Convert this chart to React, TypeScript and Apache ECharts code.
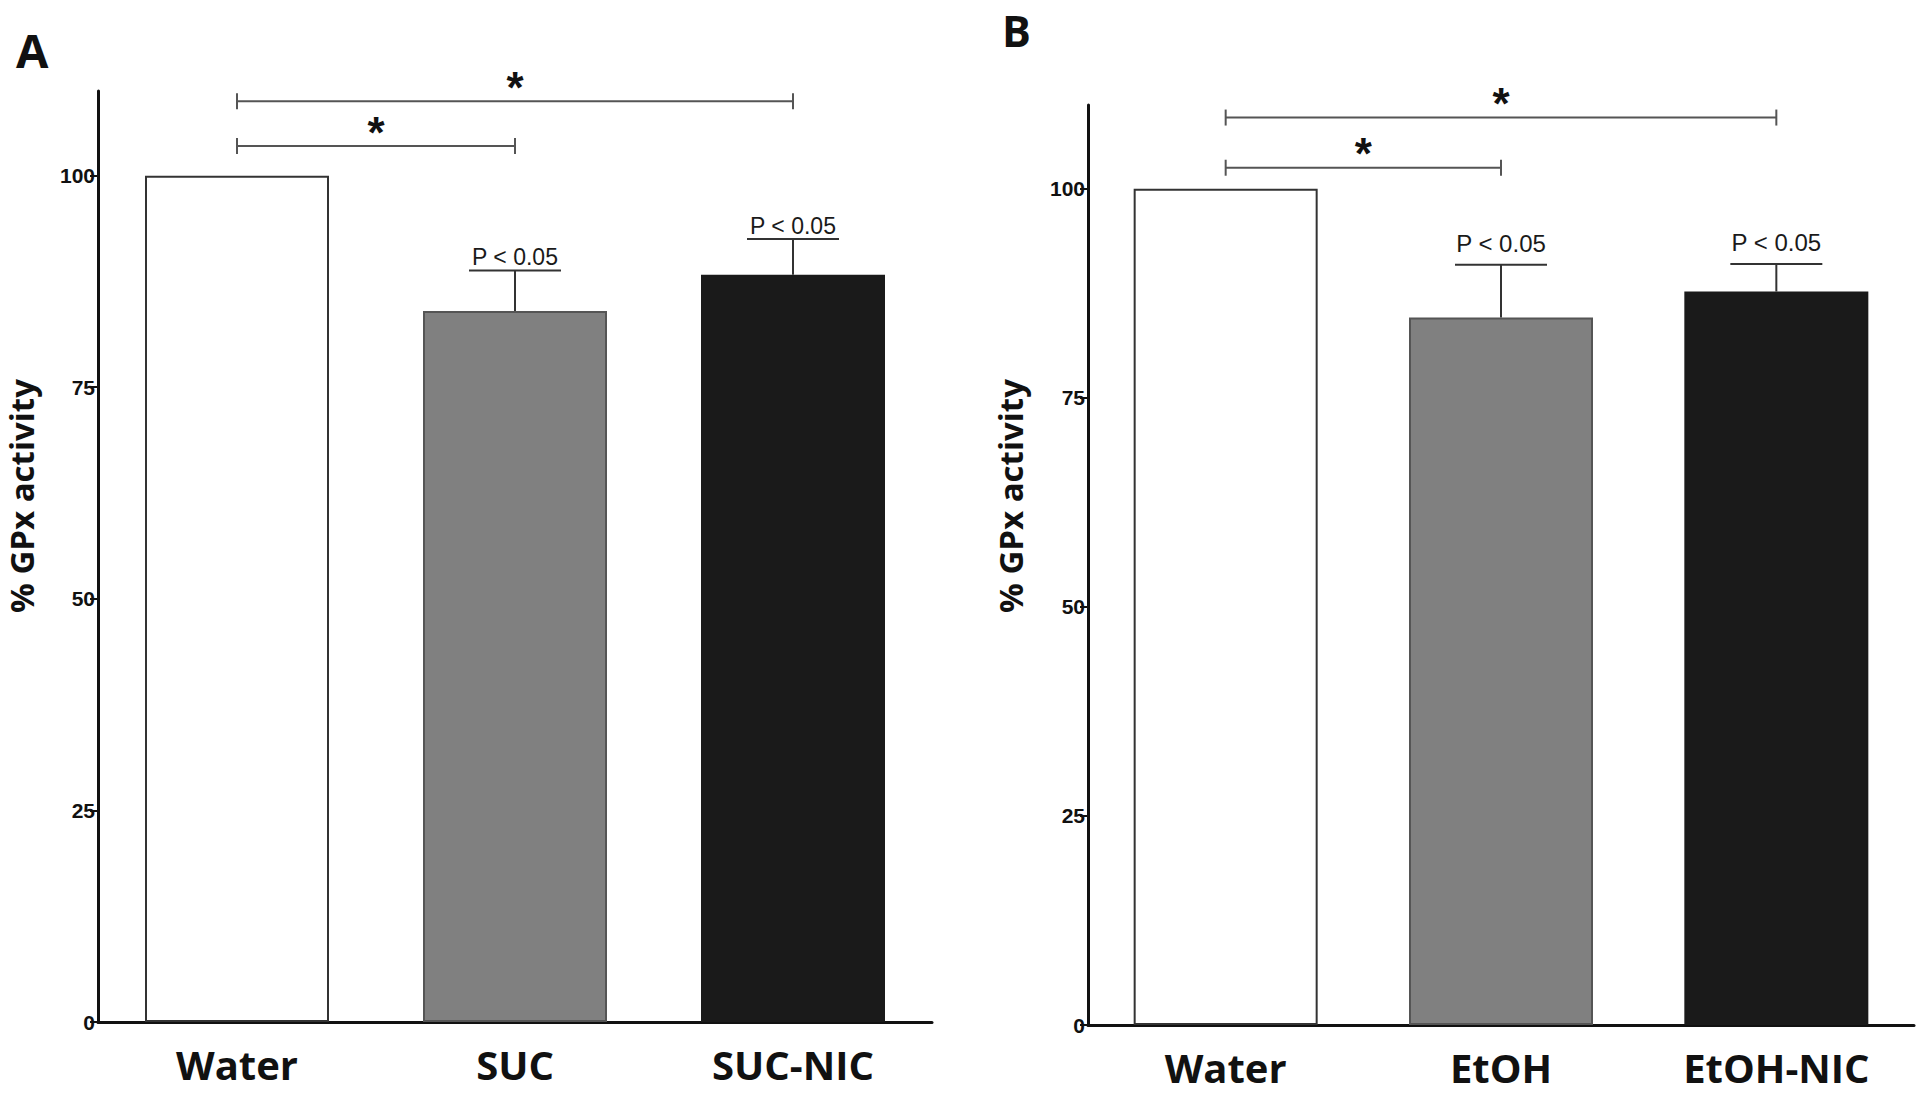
import React, { useEffect, useRef } from "react";
import * as echarts from "echarts";

const categoriesA = ["Water", "SUC", "SUC-NIC"];
const valuesA = [100, 84.0, 88.3];
const errorsA = [0, 4.8, 4.2];
const bracketsA = [
  [0, 2, 108.8],
  [0, 1, 103.5],
];

const categoriesB = ["Water", "EtOH", "EtOH-NIC"];
const valuesB = [100, 84.6, 87.7];
const errorsB = [0, 6.3, 3.3];
const bracketsB = [
  [0, 2, 108.5],
  [0, 1, 102.5],
];

const yTicks = [0, 25, 50, 75, 100];
const pLabel = "P < 0.05";
const starLabel = "*";
const yName = "% GPx activity";

const barColors = ["#ffffff", "#808080", "#1a1a1a"];
const barBorders = ["#333333", "#555555", "#1a1a1a"];

function makeErrorRender(gap: number, fontSize: number) {
  return function errorRender(params: any, api: any) {
    const x = api.value(0);
    const mean = api.value(1);
    const upper = api.value(2);
    const p0 = api.coord([x, mean]);
    const p1 = api.coord([x, upper]);
    const hw = 46;
    const stroke = { stroke: "#333333", lineWidth: 2 };
    return {
      type: "group",
      children: [
        { type: "line", shape: { x1: p0[0], y1: p0[1], x2: p1[0], y2: p1[1] }, style: stroke },
        { type: "line", shape: { x1: p1[0] - hw, y1: p1[1], x2: p1[0] + hw, y2: p1[1] }, style: stroke },
        {
          type: "text",
          x: p1[0],
          y: p1[1] - gap,
          style: {
            text: pLabel,
            fill: "#1a1a1a",
            font: fontSize + "px 'Liberation Sans', Arial, sans-serif",
            align: "center",
            verticalAlign: "bottom",
          },
        },
      ],
    };
  };
}

function bracketRender(params: any, api: any) {
  const a = api.value(0);
  const b = api.value(1);
  const y = api.value(2);
  const p0 = api.coord([a, y]);
  const p1 = api.coord([b, y]);
  const stroke = { stroke: "#555555", lineWidth: 2 };
  const t = 8;
  return {
    type: "group",
    children: [
      { type: "line", shape: { x1: p0[0], y1: p0[1], x2: p1[0], y2: p1[1] }, style: stroke },
      { type: "line", shape: { x1: p0[0], y1: p0[1] - t, x2: p0[0], y2: p0[1] + t }, style: stroke },
      { type: "line", shape: { x1: p1[0], y1: p1[1] - t, x2: p1[0], y2: p1[1] + t }, style: stroke },
      {
        type: "text",
        x: (p0[0] + p1[0]) / 2,
        y: p0[1] + 8,
        style: {
          text: starLabel,
          fill: "#111111",
          font: "bold 44px 'Liberation Sans', Arial, sans-serif",
          align: "center",
          verticalAlign: "bottom",
        },
      },
    ],
  };
}

function buildPanel(
  idx: number,
  cats: string[],
  vals: number[],
  errs: number[],
  brackets: number[][],
  pGap: number,
  pSize: number
) {
  const xAxis = {
    type: "category",
    gridIndex: idx,
    data: cats,
    axisLine: { lineStyle: { color: "#111111", width: 3 } },
    axisTick: { alignWithLabel: true, length: 7, lineStyle: { color: "#111111", width: 2 } },
    axisLabel: {
      color: "#111111",
      fontFamily: "'Open Sans', sans-serif",
      fontWeight: "bold",
      fontSize: 40,
      margin: 22,
    },
  };
  const yAxis = {
    type: "value",
    gridIndex: idx,
    min: 0,
    max: 110,
    interval: 25,
    splitLine: { show: false },
    axisLine: { show: true, lineStyle: { color: "#111111", width: 3 } },
    axisTick: { show: true, length: 8, customValues: yTicks, lineStyle: { color: "#111111", width: 2 } },
    axisLabel: {
      customValues: yTicks,
      color: "#111111",
      fontFamily: "'Liberation Sans Narrow', 'Liberation Sans', Arial, sans-serif",
      fontWeight: "bold",
      fontSize: 21,
      margin: 3,
    },
  };
  const series: any[] = [
    {
      type: "bar",
      xAxisIndex: idx,
      yAxisIndex: idx,
      barWidth: 184,
      data: vals.map((v, i) => ({
        value: v,
        itemStyle: { color: barColors[i], borderColor: barBorders[i], borderWidth: 2 },
      })),
    },
    {
      type: "custom",
      xAxisIndex: idx,
      yAxisIndex: idx,
      clip: false,
      renderItem: makeErrorRender(pGap, pSize),
      data: vals
        .map((v, i) => [i, v, v + errs[i]])
        .filter((d, i) => errs[i] > 0),
      z: 5,
    },
    {
      type: "custom",
      xAxisIndex: idx,
      yAxisIndex: idx,
      clip: false,
      renderItem: bracketRender,
      data: brackets,
      z: 5,
    },
  ];
  return { xAxis, yAxis, series };
}

export default function App() {
  const ref = useRef<HTMLDivElement>(null);
  useEffect(() => {
    if (!ref.current) return;
    const chart = echarts.init(ref.current, null, { renderer: "svg" });
    const pa = buildPanel(0, categoriesA, valuesA, errorsA, bracketsA, 2, 23);
    const pb = buildPanel(1, categoriesB, valuesB, errorsB, bracketsB, 9, 24);
    chart.setOption({
      animation: false,
      backgroundColor: "#ffffff",
      grid: [
        { left: 98, right: 988, top: 91, bottom: 71 },
        { left: 1088, right: 6, top: 105, bottom: 68 },
      ],
      xAxis: [pa.xAxis, pb.xAxis],
      yAxis: [pa.yAxis, pb.yAxis],
      series: [...pa.series, ...pb.series],
      graphic: [
        {
          type: "text",
          x: 16,
          y: 50,
          style: {
            text: "A",
            font: "bold 47px 'Open Sans', sans-serif",
            fill: "#111111",
            verticalAlign: "middle",
          },
        },
        {
          type: "text",
          x: 1002,
          y: 30,
          style: {
            text: "B",
            font: "bold 43px 'Open Sans', sans-serif",
            fill: "#111111",
            verticalAlign: "middle",
          },
        },
        {
          type: "text",
          x: 21,
          y: 496,
          rotation: Math.PI / 2,
          style: {
            text: yName,
            font: "bold 33px 'Open Sans', sans-serif",
            fill: "#111111",
            align: "center",
            verticalAlign: "middle",
          },
        },
        {
          type: "text",
          x: 1010,
          y: 496,
          rotation: Math.PI / 2,
          style: {
            text: yName,
            font: "bold 33px 'Open Sans', sans-serif",
            fill: "#111111",
            align: "center",
            verticalAlign: "middle",
          },
        },
      ],
    });
    return () => chart.dispose();
  }, []);
  return (
    <div
      ref={ref}
      style={{ position: "fixed", left: 0, top: 0, width: 1920, height: 1093, background: "#fff" }}
    />
  );
}
